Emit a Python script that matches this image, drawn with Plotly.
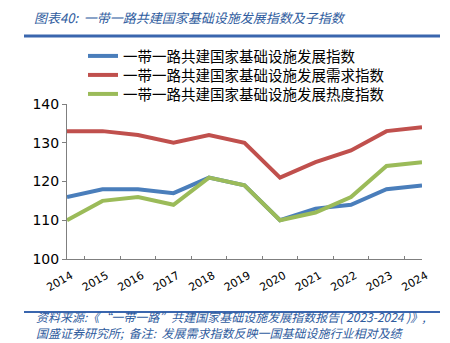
import plotly.graph_objects as go

years = ["2014", "2015", "2016", "2017", "2018", "2019", "2020", "2021", "2022", "2023", "2024"]
dev_index = [116, 118, 118, 117, 121, 119, 110, 113, 114, 118, 119]
demand_index = [133, 133, 132, 130, 132, 130, 121, 125, 128, 133, 134]
heat_index = [110, 115, 116, 114, 121, 119, 110, 112, 116, 124, 125]

names = ["一带一路共建国家基础设施发展指数",
         "一带一路共建国家基础设施发展需求指数",
         "一带一路共建国家基础设施发展热度指数"]
colors = ["#4A7EBB", "#C0504D", "#9BBB59"]

W, H = 450, 343
L, R, T, B = 67, 28, 104, 84
ph = H - T - B
pw = W - L - R


def py(p):
    return (H - B - p) / ph


def px(p):
    return (p - L) / pw


font_cn = "Noto Sans CJK SC"
blue = "#2F5C9E"

fig = go.Figure()
legend_ids = ["legend", "legend2", "legend3"]
legend_rows = [56, 75, 94]
for vals, name, c, lg in zip([dev_index, demand_index, heat_index], names, colors, legend_ids):
    fig.add_trace(go.Scatter(x=years, y=vals, name=name, mode="lines",
                             line=dict(color=c, width=4), legend=lg))

legend_style = dict(xanchor="left", yanchor="middle",
                    font=dict(family=font_cn, size=14.5, color="black"),
                    bgcolor="rgba(0,0,0,0)", itemwidth=30,
                    borderwidth=0)

fig.update_layout(
    width=W, height=H,
    margin=dict(l=L, r=R, t=T, b=B),
    paper_bgcolor="white", plot_bgcolor="white",
    font=dict(family=font_cn, size=14, color="black"),
    showlegend=True,
    legend=dict(x=px(83), y=py(legend_rows[0]), **legend_style),
    legend2=dict(x=px(83), y=py(legend_rows[1]), **legend_style),
    legend3=dict(x=px(83), y=py(legend_rows[2]), **legend_style),
    xaxis=dict(type="category", tickson="boundaries", ticks="inside", ticklen=3,
               tickcolor="#7F7F7F", showline=True, linecolor="#7F7F7F", linewidth=1,
               showgrid=False, tickangle=-30, ticklabelstandoff=5, ticklabelshift=4,
               tickfont=dict(family="DejaVu Sans", size=11)),
    yaxis=dict(range=[100, 140], dtick=10, ticks="outside", ticklen=4,
               tickcolor="#7F7F7F", showline=True, linecolor="#7F7F7F", linewidth=1,
               showgrid=False, zeroline=False,
               tickfont=dict(family="DejaVu Sans", size=14)),
)

fig.add_annotation(text="<i>图表40:  一带一路共建国家基础设施发展指数及子指数</i>",
                   xref="paper", yref="paper", x=px(32), y=py(18),
                   xanchor="left", yanchor="middle", showarrow=False,
                   font=dict(family=font_cn, size=13, color=blue))
fig.add_shape(type="line", xref="paper", yref="paper",
              x0=px(24), x1=px(440), y0=py(36), y1=py(36),
              line=dict(color="#3A66AE", width=3))
fig.add_shape(type="line", xref="paper", yref="paper",
              x0=px(24), x1=px(440), y0=py(312), y1=py(312),
              line=dict(color="#3A66AE", width=2))
fig.add_annotation(text="<i>资料来源:《“一带一路”共建国家基础设施发展指数报告( 2023-2024 )》,</i><br>"
                        "<i>国盛证券研究所;  备注:  发展需求指数反映一国基础设施行业相对及绩</i>",
                   xref="paper", yref="paper", x=px(34), y=py(343),
                   xanchor="left", yanchor="bottom", align="left", showarrow=False,
                   font=dict(family=font_cn, size=12, color=blue))

fig.write_html("out.html")
